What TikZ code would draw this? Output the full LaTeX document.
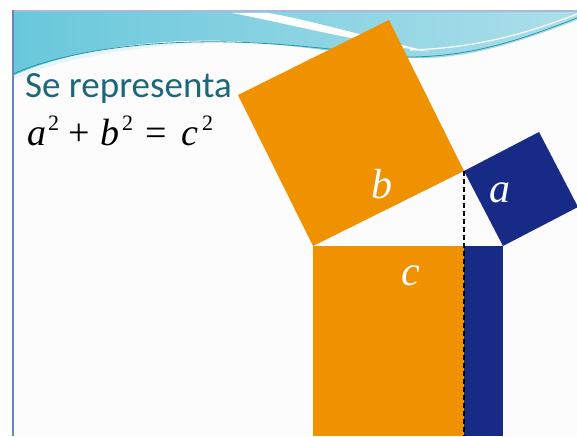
\documentclass[tikz,border=0pt]{standalone}
\usepackage{fontspec}
\setmainfont{Liberation Serif}
\newfontfamily\calfont{Carlito}
\newfontfamily\timesfont{Liberation Serif}
\definecolor{sqorange}{RGB}{240,146,0}
\definecolor{sqblue}{RGB}{22,42,134}
\definecolor{titleteal}{RGB}{28,104,122}
\definecolor{slidebg}{RGB}{252,252,252}
\definecolor{bordleft}{RGB}{104,134,190}
\definecolor{bordtop}{RGB}{168,184,222}
\definecolor{cyanL}{RGB}{104,200,218}
\definecolor{cyanR}{RGB}{172,222,234}
\definecolor{waveline}{RGB}{40,150,170}
\tikzset{
  sqlabel/.style={text=white, font=\timesfont\itshape\fontsize{42}{42}\selectfont, inner sep=0pt},
  eqpart/.style={font=\timesfont\fontsize{38}{38}\selectfont, inner sep=0pt, anchor=base west},
  eqsup/.style={font=\timesfont\fontsize{22}{22}\selectfont, inner sep=0pt, anchor=base west},
  altitude/.style={draw=black, line width=1.2pt, dash pattern=on 5pt off 3pt},
}
\begin{document}
\begin{tikzpicture}[x=1pt,y=-1pt]
\useasboundingbox (0,0) rectangle (577,436);
\fill[white] (0,0) rectangle (577,436);
\fill[slidebg] (13,11) rectangle (577,436);
% header wave
\shade[left color=cyanL, right color=cyanR]
  (13,12) -- (577,12) -- (577,20)
  .. controls (520,42) and (470,58) .. (420,58)
  .. controls (360,58) and (300,44) .. (230,41)
  .. controls (140,38) and (60,54) .. (13,76) -- cycle;
\fill[white] (232,13) .. controls (280,22) and (340,38) .. (430,52)
  .. controls (350,32) and (300,18) .. (268,13) -- cycle;
\fill[white!70!cyanR] (13,76) .. controls (60,54) and (140,40) .. (230,43)
  .. controls (140,44) and (60,58) .. (13,80) -- cycle;
\draw[waveline, line width=0.8pt] (13,74) .. controls (60,53) and (140,40) .. (232,42)
  .. controls (300,44) and (350,52) .. (400,56);
\draw[waveline, line width=0.8pt] (400,57) .. controls (470,58) and (520,40) .. (577,18);
\draw[white, line width=1.2pt] (410,50) .. controls (480,48) and (530,32) .. (577,14);
% borders
\draw[bordtop, line width=2.5pt] (12,11) -- (577,11);
\draw[bordleft, line width=2pt] (13,10) -- (13,436);
% title
\node[text=titleteal, font=\calfont\fontsize{37}{37}\selectfont, inner sep=0pt, anchor=base west] (title) at (25,97) {Se representa};
% equation
\node[eqpart] (ea) at (27,145) {\itshape a};
\node[eqsup] (ea2) at (48,130) {2};
\node[eqpart] (eplus) at (68,145) {+};
\node[eqpart] (eb) at (100,145) {\itshape b};
\node[eqsup] (eb2) at (122,130) {2};
\node[eqpart] (eeq) at (145,145) {=};
\node[eqpart] (ec) at (181,145) {\itshape c};
\node[eqsup] (ec2) at (202,130) {2};
% geometry
\coordinate (A) at (313,246);
\coordinate (B) at (503,246);
\coordinate (C) at (464,171);
\coordinate (HT) at (464,246);
\coordinate (H) at (464,436);
\coordinate (A2) at (238,95);
\coordinate (C2) at (389,20);
\coordinate (B3) at (578,207);
\coordinate (C3) at (539,132);
\coordinate (AL) at (313,436);
\coordinate (BL) at (503,436);
\fill[sqorange] (A) -- (C) -- (C2) -- (A2) -- cycle;
\fill[sqblue] (C) -- (B) -- (B3) -- (C3) -- cycle;
\fill[sqorange] (A) -- (HT) -- (H) -- (AL) -- cycle;
\fill[sqblue] (HT) -- (B) -- (BL) -- (H) -- cycle;
\draw[altitude] (C) -- (H);
% labels
\node[sqlabel] (lb) at (382,184) {b};
\node[sqlabel] (la) at (500,193) {a};
\node[sqlabel] (lc) at (411,276) {c};
\end{tikzpicture}
\end{document}
